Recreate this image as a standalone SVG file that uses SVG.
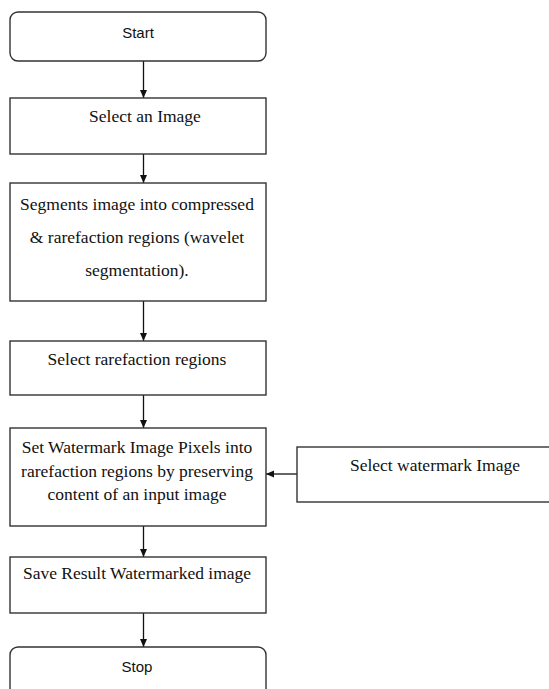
<svg xmlns="http://www.w3.org/2000/svg" width="549" height="689" viewBox="0 0 549 689">
<style>
.box{fill:#fff;stroke:#333;stroke-width:1.4}
.t{font-family:"Liberation Serif","Times New Roman",serif;font-size:17.5px;fill:#111;text-anchor:middle}
.s{font-family:"Liberation Sans",Arial,sans-serif;font-size:15px;fill:#111;text-anchor:middle}
.c{stroke:#111;stroke-width:1.3;fill:none;marker-end:url(#ah)}
</style>
<defs>
<marker id="ah" markerUnits="userSpaceOnUse" markerWidth="9" markerHeight="8" refX="8" refY="3.5" orient="auto">
<path d="M0,0 L8,3.5 L0,7 z" fill="#111"/>
</marker>
</defs>
<rect width="549" height="689" fill="#fff"/>
<g id="connectors">
<line class="c" x1="143.5" y1="61" x2="143.5" y2="98"/>
<line class="c" x1="143.5" y1="154" x2="143.5" y2="183"/>
<line class="c" x1="143.5" y1="301" x2="143.5" y2="341"/>
<line class="c" x1="143.5" y1="395" x2="143.5" y2="428"/>
<line class="c" x1="143.5" y1="526" x2="143.5" y2="557"/>
<line class="c" x1="143.5" y1="613" x2="143.5" y2="647"/>
<line class="c" x1="297" y1="474" x2="266" y2="474"/>
</g>
<g id="start">
<rect class="box" x="10" y="12" width="256" height="49" rx="8"/>
<text class="s" x="138" y="37.5">Start</text>
</g>
<g id="select-image">
<rect class="box" x="10" y="98" width="256" height="56"/>
<text class="t" x="145" y="122">Select an Image</text>
</g>
<g id="segments">
<rect class="box" x="10" y="183" width="256" height="118"/>
<text class="t" x="137" y="210">Segments image into compressed</text>
<text class="t" x="137" y="243">&amp; rarefaction regions (wavelet</text>
<text class="t" x="137" y="276">segmentation).</text>
</g>
<g id="select-rarefaction">
<rect class="box" x="10" y="341" width="256" height="54"/>
<text class="t" x="137" y="365">Select rarefaction regions</text>
</g>
<g id="set-watermark">
<rect class="box" x="10" y="428" width="256" height="98"/>
<text class="t" x="137" y="453">Set Watermark Image Pixels into</text>
<text class="t" x="137" y="477">rarefaction regions by preserving</text>
<text class="t" x="137" y="500">content of an input image</text>
</g>
<g id="select-watermark">
<rect class="box" x="297" y="447" width="262" height="55"/>
<text class="t" x="435" y="471">Select watermark Image</text>
</g>
<g id="save-result">
<rect class="box" x="10" y="557" width="256" height="56"/>
<text class="t" x="137" y="579">Save Result Watermarked image</text>
</g>
<g id="stop">
<rect class="box" x="10" y="647" width="256" height="60" rx="8"/>
<text class="s" x="137" y="671.5">Stop</text>
</g>
</svg>
